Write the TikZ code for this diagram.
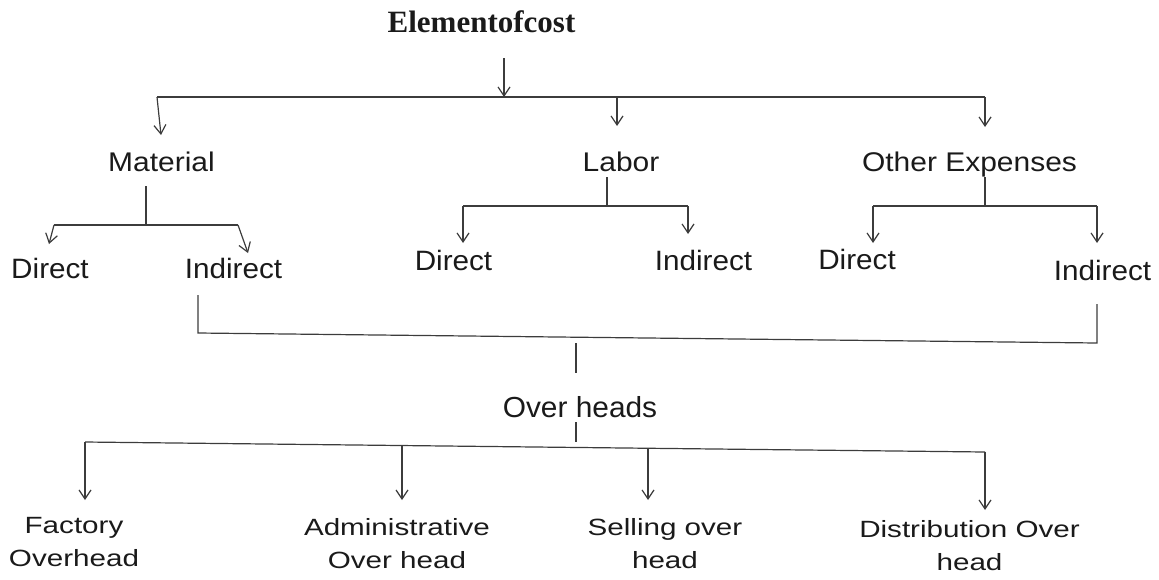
\documentclass[tikz,border=0pt]{standalone}
\usepackage{fontspec}
\setmainfont{Liberation Serif}
\newfontfamily\lsansA[FakeStretch=1.11]{Liberation Sans}
\newfontfamily\lsansB[FakeStretch=1.06]{Liberation Sans}
\newfontfamily\lsansC[FakeStretch=1.03]{Liberation Sans}
\newfontfamily\lsansD[FakeStretch=1.26]{Liberation Sans}
\usetikzlibrary{arrows.meta}
\definecolor{linec}{HTML}{3C3C3C}
\definecolor{textc}{HTML}{1A1A1A}
\begin{document}
\begin{tikzpicture}[x=1pt,y=-1pt,
  lbl/.style={anchor=base,inner sep=0pt,text=textc},
  lvA/.style={lbl,font=\lsansA\fontsize{27}{32}\selectfont},
  lvB/.style={lbl,font=\lsansB\fontsize{28}{33}\selectfont},
  lvC/.style={lbl,font=\lsansC\fontsize{29}{34}\selectfont},
  lvD/.style={lbl,font=\lsansD\fontsize{23.5}{33}\selectfont},
  ln/.style={draw=linec,line width=1.2pt},
  arr/.style={ln,-{Straight Barb[length=9pt,width=12pt,line width=1.2pt]}}
]
\useasboundingbox (0,0) rectangle (1159,579);

% nodes
\node[lbl,font=\bfseries\fontsize{31}{35}\selectfont] (title) at (481.5,32) {Elementofcost};
\node[lvA] (mat) at (161.5,171) {Material};
\node[lvA] (lab) at (621,171) {Labor};
\node[lvA] (oth) at (969.5,171) {Other Expenses};
\node[lvB] (mdir) at (50,278) {Direct};
\node[lvB] (mind) at (233.5,278) {Indirect};
\node[lvB] (ldir) at (453.5,270) {Direct};
\node[lvB] (lind) at (703.5,270) {Indirect};
\node[lvB] (odir) at (857,269) {Direct};
\node[lvB] (oind) at (1102.5,280) {Indirect};
\node[lvC] (ovh) at (580,417) {Over heads};
\node[lvD] (fac) at (74,533) {\begin{tabular}[t]{@{}c@{}}Factory\\Overhead\end{tabular}};
\node[lvD] (adm) at (397,535) {\begin{tabular}[t]{@{}c@{}}Administrative\\Over head\end{tabular}};
\node[lvD] (sel) at (665,535) {\begin{tabular}[t]{@{}c@{}}Selling over\\head\end{tabular}};
\node[lvD] (dis) at (969.5,537) {\begin{tabular}[t]{@{}c@{}}Distribution Over\\head\end{tabular}};

% junction coordinates
\coordinate (t0) at (504,58);
\coordinate (t1) at (504,97);
\coordinate (bL) at (157,97);
\coordinate (bLab) at (617,97);
\coordinate (bR) at (985,97);
\coordinate (matT) at (161,135);
\coordinate (labT) at (617,126);
\coordinate (othT) at (985,127);

\coordinate (m0) at (146,186);
\coordinate (m1) at (146,225);
\coordinate (mL) at (54,225);
\coordinate (mR) at (238,225);
\coordinate (mLt) at (49,244);
\coordinate (mRt) at (248,253);

\coordinate (l0) at (607,177);
\coordinate (l1) at (607,206);
\coordinate (lL) at (463,206);
\coordinate (lR) at (688,206);
\coordinate (lLt) at (463,243);
\coordinate (lRt) at (688,234);

\coordinate (o0) at (985,177);
\coordinate (o1) at (985,206);
\coordinate (oL) at (873,206);
\coordinate (oR) at (1097,206);
\coordinate (oLt) at (873,243);
\coordinate (oRt) at (1097,243);

\coordinate (j0) at (198,295);
\coordinate (j1) at (198,333);
\coordinate (j2) at (1097,343);
\coordinate (j3) at (1097,304);
\coordinate (v0) at (576,343);
\coordinate (v1) at (576,373);
\coordinate (w0) at (576,422);
\coordinate (w1) at (576,442);

\coordinate (k0) at (85,442);
\coordinate (k1) at (985,452);
\coordinate (ka) at (402,445.5);
\coordinate (ks) at (648,448.2);
\coordinate (k0t) at (85,500);
\coordinate (kat) at (402,500);
\coordinate (kst) at (648,500);
\coordinate (k1t) at (985,510);

% connectors
\draw[arr] (t0) -- (t1);
\draw[ln] (bL) -- (bR);
\draw[arr] (bL) -- (matT);
\draw[arr] (bLab) -- (labT);
\draw[arr] (bR) -- (othT);

\draw[ln] (m0) -- (m1);
\draw[ln] (mL) -- (mR);
\draw[arr] (mL) -- (mLt);
\draw[arr] (mR) -- (mRt);

\draw[ln] (l0) -- (l1);
\draw[ln] (lL) -- (lR);
\draw[arr] (lL) -- (lLt);
\draw[arr] (lR) -- (lRt);

\draw[ln] (o0) -- (o1);
\draw[ln] (oL) -- (oR);
\draw[arr] (oL) -- (oLt);
\draw[arr] (oR) -- (oRt);

\draw[ln] (j0) -- (j1) -- (j2) -- (j3);
\draw[ln] (v0) -- (v1);
\draw[ln] (w0) -- (w1);

\draw[ln] (k0) -- (k1);
\draw[arr] (k0) -- (k0t);
\draw[arr] (ka) -- (kat);
\draw[arr] (ks) -- (kst);
\draw[arr] (k1) -- (k1t);
\end{tikzpicture}
\end{document}
